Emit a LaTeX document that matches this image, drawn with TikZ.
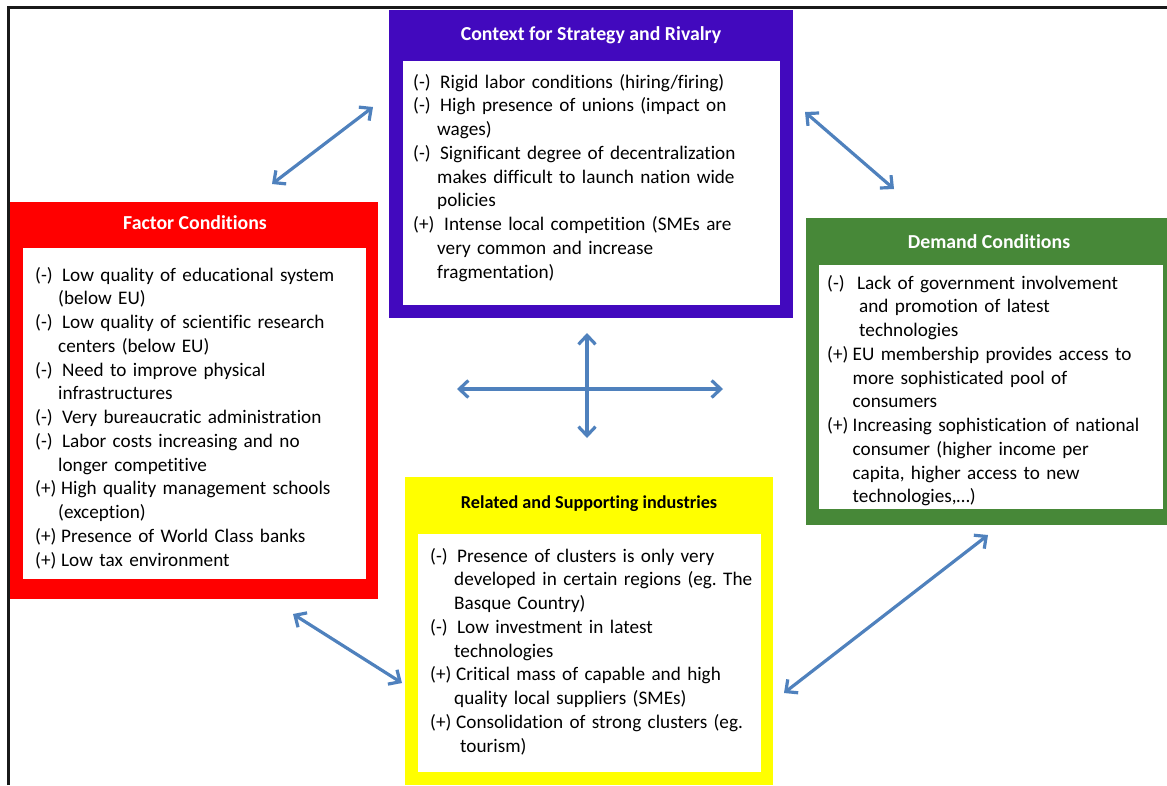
\documentclass[tikz,border=0pt]{standalone}
\usepackage{fontspec}
\setmainfont{Carlito}[Ligatures=NoCommon]
\usetikzlibrary{arrows.meta}
\definecolor{fcred}{RGB}{255,0,0}
\definecolor{csrpurple}{RGB}{66,9,190}
\definecolor{dcgreen}{RGB}{71,136,56}
\definecolor{rsyellow}{RGB}{255,255,0}
\definecolor{arrowblue}{RGB}{79,129,189}
\newcommand{\cont}[1][23pt]{\\\hspace*{#1}\ignorespaces}
\newcommand{\lab}[2][27pt]{\makebox[#1][l]{#2}}
\frenchspacing
\tikzset{
  outerbox/.style={draw=none, inner sep=0pt, anchor=north west},
  innerbox/.style={fill=white, draw=none, inner sep=0pt, anchor=north west},
  titletext/.style={inner sep=0pt, anchor=base, font=\fontsize{19.8pt}{24pt}\selectfont\bfseries},
  bodytext/.style={inner sep=0pt, anchor=base west, text width=360pt, align=left,
    font=\fontsize{19.2pt}{23.75pt}\selectfont},
  dblarrow/.style={arrowblue, line width=3.2pt, >={Straight Barb[length=9pt,width=17pt]}, <->},
}
\begin{document}
\begin{tikzpicture}[x=1pt,y=-1pt]
\useasboundingbox (0,0) rectangle (1167,785);
% frame
\draw[black!90, line width=2.6pt] (8.6,785) -- (8.6,7.6) -- (1167,7.6);

% Factor Conditions
\node[outerbox, fill=fcred, minimum width=368pt, minimum height=397pt] (fc) at (10,202) {};
\node[innerbox, minimum width=343pt, minimum height=331pt] (fcin) at (23,248) {};
\node[titletext, text=white] (fctitle) at (195,229) {Factor Conditions};
\node[bodytext] (fctext) at (35,281) {%
\lab{(-)}Low quality of educational system\cont (below EU)\\
\lab{(-)}Low quality of scientific research\cont centers (below EU)\\
\lab{(-)}Need to improve physical\cont infrastructures\\
\lab{(-)}Very bureaucratic administration\\
\lab{(-)}Labor costs increasing and no\cont longer competitive\\
\lab[26pt]{(+)}High quality management schools\cont (exception)\\
\lab[26pt]{(+)}Presence of World Class banks\\
\lab[26pt]{(+)}Low tax environment};

% Context for Strategy and Rivalry
\node[outerbox, fill=csrpurple, minimum width=404pt, minimum height=308pt] (csr) at (389,10) {};
\node[innerbox, minimum width=377pt, minimum height=244pt] (csrin) at (403,61) {};
\node[titletext, text=white] (csrtitle) at (591,40) {Context for Strategy and Rivalry};
\node[bodytext] (csrtext) at (413,88) {%
\lab{(-)}Rigid labor conditions (hiring/firing)\\
\lab{(-)}High presence of unions (impact on\cont[24pt] wages)\\
\lab{(-)}Significant degree of decentralization\cont[24pt] makes difficult to launch nation wide\cont[24pt] policies\\
\lab[31pt]{(+)}Intense local competition (SMEs are\cont[24pt] very common and increase\cont[24pt] fragmentation)};

% Demand Conditions
\node[outerbox, fill=dcgreen, minimum width=361pt, minimum height=307pt] (dc) at (806,218) {};
\node[innerbox, minimum width=344pt, minimum height=244pt] (dcin) at (819,265) {};
\node[titletext, text=white] (dctitle) at (989,248) {Demand Conditions};
\node[bodytext] (dctext) at (827,289) {%
\lab[30pt]{(-)}Lack of government involvement\cont[32pt] and promotion of latest\cont[32pt] technologies\\
\lab[25.5pt]{(+)}EU membership provides access to\cont[25.5pt] more sophisticated pool of\cont[25.5pt] consumers\\
\lab[25.5pt]{(+)}Increasing sophistication of national\cont[25.5pt] consumer (higher income per\cont[25.5pt] capita, higher access to new\cont[25.5pt] technologies,…)};

% Related and Supporting industries
\node[outerbox, fill=rsyellow, minimum width=368pt, minimum height=308pt] (rs) at (405,477) {};
\node[innerbox, minimum width=343pt, minimum height=238pt] (rsin) at (418,534) {};
\node[titletext, text=black, font=\fontsize{18.2pt}{22pt}\selectfont\bfseries] (rstitle) at (589,508) {Related and Supporting industries};
\node[bodytext] (rstext) at (430,562) {%
\lab{(-)}Presence of clusters is only very\cont[24pt] developed in certain regions (eg. The\cont[24pt] Basque Country)\\
\lab{(-)}Low investment in latest\cont[24pt] technologies\\
\lab[26pt]{(+)}Critical mass of capable and high\cont[24pt] quality local suppliers (SMEs)\\
\lab[26pt]{(+)}Consolidation of strong clusters (eg.\cont[30pt] tourism)};

% arrow end points
\coordinate (a1s) at (272,184); \coordinate (a1e) at (373,107);
\coordinate (a2s) at (805,112); \coordinate (a2e) at (894,189);
\coordinate (a3s) at (293,614); \coordinate (a3e) at (402,683);
\coordinate (a4s) at (988,535); \coordinate (a4e) at (784,693);
\coordinate (chl) at (457,389); \coordinate (chr) at (723,389);
\coordinate (cvt) at (587,333); \coordinate (cvb) at (587,438);

\draw[dblarrow] (a1s) -- (a1e);
\draw[dblarrow] (a2s) -- (a2e);
\draw[dblarrow] (a3s) -- (a3e);
\draw[dblarrow] (a4s) -- (a4e);
\draw[dblarrow] (chl) -- (chr);
\draw[dblarrow] (cvt) -- (cvb);
\end{tikzpicture}
\end{document}
